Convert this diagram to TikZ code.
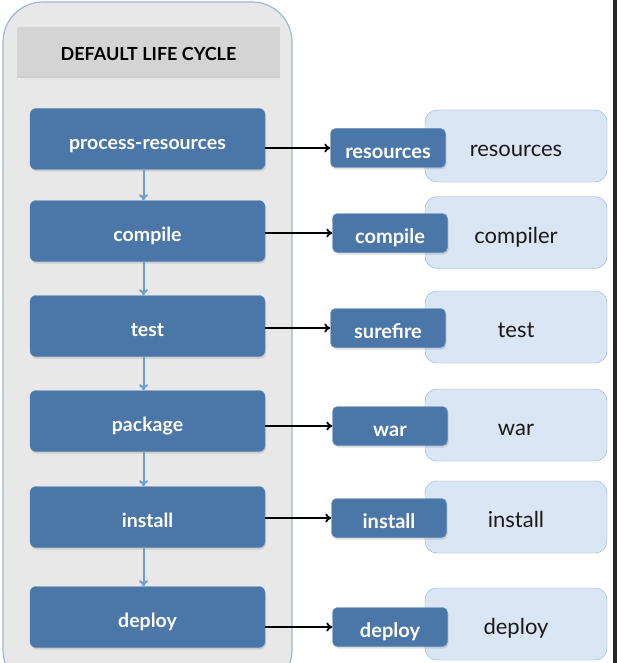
\documentclass[tikz,border=0pt]{standalone}
\usepackage{fontspec}
\setmainfont{Lato}
\usepackage{tikz}
\usetikzlibrary{arrows.meta,shadows}

\definecolor{phaseblue}{HTML}{4A76A8}
\definecolor{phaseedge}{HTML}{5E8CC0}
\definecolor{plugfill}{HTML}{DAE6F4}
\definecolor{plugedge}{HTML}{8CAED8}
\definecolor{cyclefill}{HTML}{E8E8E8}
\definecolor{cycleedge}{HTML}{9DB8D6}
\definecolor{headfill}{HTML}{D4D4D4}
\definecolor{downblue}{HTML}{6E9DD0}

\begin{document}
\begin{tikzpicture}[x=1pt, y=-1pt,
  phase/.style={draw=phaseedge, fill=phaseblue, rounded corners=6pt, text=white,
    minimum width=235pt, minimum height=61pt, font=\fontsize{19.5}{21}\bfseries\selectfont,
    text height=21pt, text depth=0pt,
    drop shadow={opacity=0.25, shadow xshift=1pt, shadow yshift=-2pt}},
  goal/.style={draw=phaseedge, fill=phaseblue, rounded corners=5pt, text=white,
    minimum width=115pt, minimum height=39pt, font=\fontsize{20}{21}\bfseries\selectfont,
    text height=21pt, text depth=0pt,
    drop shadow={opacity=0.25, shadow xshift=1pt, shadow yshift=-2pt}},
  plugin/.style={draw=plugedge, fill=plugfill, rounded corners=12pt, text=black!90,
    minimum width=182pt, minimum height=72pt, font=\fontsize{22}{24}\selectfont,
    text height=21pt, text depth=0pt},
  flow/.style={draw=downblue, line width=2pt, -{To[length=6pt,width=9pt]}},
  bind/.style={draw=black, line width=1.8pt, -{To[length=6pt,width=9pt]}}]

  \useasboundingbox (0,0) rectangle (617,663);
  \fill[white] (0,0) rectangle (617,663);
  \clip (0,0) rectangle (617,663);

  % lifecycle container
  \draw[fill=cyclefill, draw=cycleedge, line width=1.2pt, rounded corners=40pt]
    (3,2) rectangle (292,690);
  \node[fill=headfill, minimum width=263pt, minimum height=49pt,
    font=\fontsize{18}{19}\bfseries\selectfont, text height=19pt, text depth=0pt,
    drop shadow={opacity=0.25, shadow xshift=0pt, shadow yshift=-2pt}]
    (head) at (148.5,51.5) {DEFAULT LIFE CYCLE};

  % phases
  \node[phase] (pres) at (147.5,139) {process-resources};
  \node[phase] (comp) at (147.5,231) {compile};
  \node[phase] (test) at (147.5,326) {test};
  \node[phase] (pack) at (147.5,421) {package};
  \node[phase] (inst) at (147.5,517) {install};
  \node[phase] (depl) at (147.5,617) {deploy};

  \draw[flow] ([xshift=-4pt]pres.south) -- ([xshift=-4pt]comp.north);
  \draw[flow] ([xshift=-4pt]comp.south) -- ([xshift=-4pt]test.north);
  \draw[flow] ([xshift=-4pt]test.south) -- ([xshift=-4pt]pack.north);
  \draw[flow] ([xshift=-4pt]pack.south) -- ([xshift=-4pt]inst.north);
  \draw[flow] ([xshift=-4pt]inst.south) -- ([xshift=-4pt]depl.north);

  % plugins
  \node[plugin] (presp) at (516,146) {resources};
  \node[plugin] (compp) at (516,232.5) {compiler};
  \node[plugin] (testp) at (516,327) {test};
  \node[plugin] (packp) at (516,425) {war};
  \node[plugin] (instp) at (516,517) {install};
  \node[plugin] (deplp) at (516,624) {deploy};

  % goals
  \node[goal] (presg) at (388,148) {resources};
  \node[goal] (compg) at (390,233) {compile};
  \node[goal] (testg) at (388,328) {surefire};
  \node[goal] (packg) at (390,426) {war};
  \node[goal] (instg) at (389,518) {install};
  \node[goal] (deplg) at (390,627) {deploy};

  \draw[bind] (pres.east |- presg.west) -- (presg.west);
  \draw[bind] (comp.east |- compg.west) -- (compg.west);
  \draw[bind] (test.east |- testg.west) -- (testg.west);
  \draw[bind] (pack.east |- packg.west) -- (packg.west);
  \draw[bind] (inst.east |- instg.west) -- (instg.west);
  \draw[bind] (depl.east |- deplg.west) -- (deplg.west);

  \fill[black!85] (613,0) rectangle (617,663);

\end{tikzpicture}
\end{document}
